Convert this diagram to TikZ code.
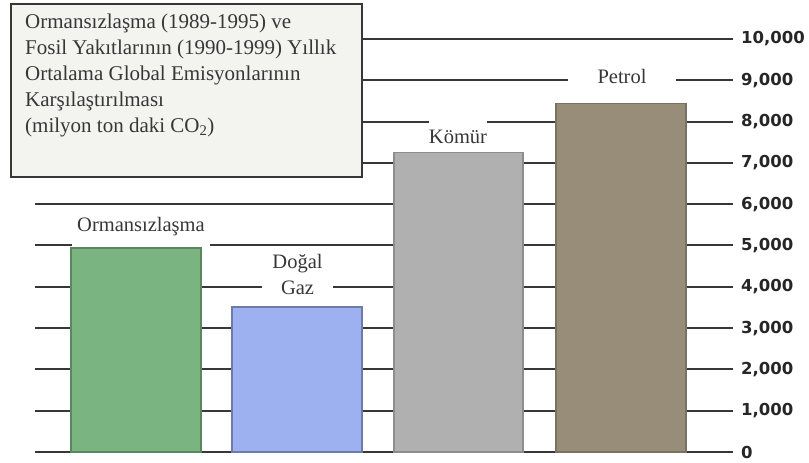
\documentclass[tikz,border=0pt]{standalone}
\usepackage{fontspec}
\setmainfont{Liberation Serif}
\newfontfamily\axisfont{DejaVu Sans}
\usetikzlibrary{positioning}
\definecolor{gridcol}{RGB}{55,55,55}
\definecolor{textcol}{RGB}{55,55,55}
\definecolor{boxcol}{RGB}{243,243,240}
\definecolor{forestcol}{RGB}{122,180,128}
\definecolor{gascol}{RGB}{157,176,240}
\definecolor{coalcol}{RGB}{176,176,176}
\definecolor{oilcol}{RGB}{151,141,121}
\tikzset{
  grid line/.style={gridcol,line width=2pt},
  bar/.style={line width=1.2pt},
  axislabel/.style={inner sep=0pt,text=black!85,font=\axisfont\bfseries\fontsize{16.5}{19}\selectfont},
  barlabel/.style={fill=white,text=textcol,font=\fontsize{20.5}{26}\selectfont},
  titlebox/.style={draw=gridcol,fill=boxcol,line width=2pt},
  titletext/.style={anchor=north west,inner sep=0pt,align=left,text=textcol,font=\fontsize{21}{26}\selectfont},
}

\begin{document}
\begin{tikzpicture}[x=1pt,y=1pt]
\useasboundingbox (0,0) rectangle (809,463);
% grid and value axis (y in thousands)
\begin{scope}[yshift=11pt,y=41.3pt]
\foreach \v in {0,...,10} {
  \coordinate (g\v) at (733,\v);
  \draw[grid line] (35,\v) -- (g\v);
}
\foreach \v/\t in {0/0,1/{1,000},2/{2,000},3/{3,000},4/{4,000},5/{5,000},6/{6,000},7/{7,000},8/{8,000},9/{9,000},10/{10,000}}
  \node[axislabel,right=8pt of g\v] (n\v) {\t};
\end{scope}
% bar labels
\node[barlabel,anchor=base,inner xsep=5pt,inner ysep=3pt,text depth=12pt] (forestlbl) at (141,231) {Ormansızlaşma};
\node[barlabel,anchor=north,align=center,inner xsep=10.5pt,inner ysep=2pt] (gaslbl) at (297.5,211) {Doğal\\Gaz};
\node[barlabel,anchor=base,inner xsep=0pt,inner ysep=10pt] (coallbl) at (458,319) {Kömür};
\node[barlabel,anchor=base,inner xsep=30pt,inner ysep=3pt] (oillbl) at (622,379) {Petrol};
% bars
\begin{scope}[yshift=11pt,y=41.3pt]
\filldraw[bar,fill=forestcol,draw=forestcol!75!black] (71,0) rectangle (201,4.94);
\filldraw[bar,fill=gascol,draw=gascol!70!black] (232,0) rectangle (362,3.51);
\filldraw[bar,fill=coalcol,draw=coalcol!80!black] (394,0) rectangle (523,7.26);
\filldraw[bar,fill=oilcol,draw=oilcol!80!black] (556,0) rectangle (686,8.43);
\end{scope}
% title box
\draw[titlebox] (11,286) rectangle (362,459);
\node[titletext] (title) at (25,449) {Ormansızlaşma (1989-1995) ve\\Fosil Yakıtlarının (1990-1999) Yıllık\\Ortalama Global Emisyonlarının\\Karşılaştırılması\\(milyon ton daki CO\textsubscript{2})};
\end{tikzpicture}
\end{document}
